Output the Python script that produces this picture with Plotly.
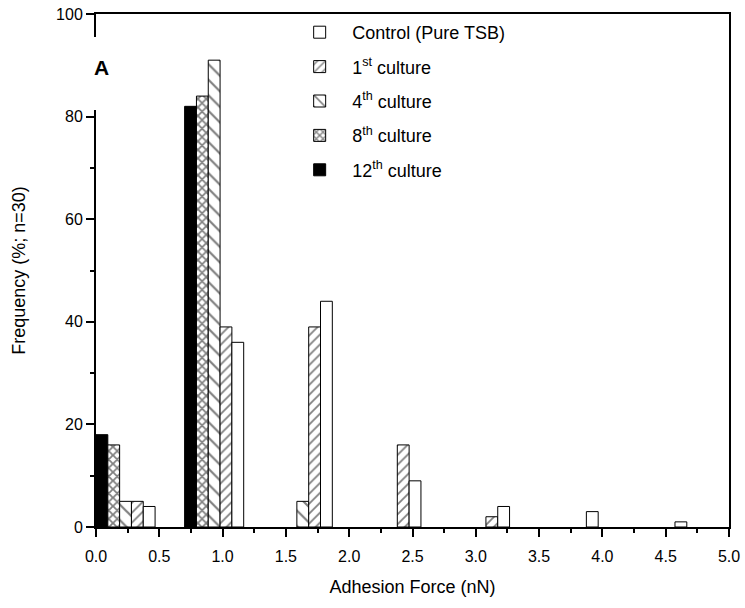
import plotly.graph_objects as go

# Bin lower edges (nN) and bin width
bin_edges = [0.0, 0.7, 1.4, 2.1, 2.8, 3.5, 4.2]
bin_width = 0.7

series_names = ["12<sup>th</sup> culture", "8<sup>th</sup> culture",
                "4<sup>th</sup> culture", "1<sup>st</sup> culture",
                "Control (Pure TSB)"]
freq_12th = [18, 82, 0, 0, 0, 0, 0]
freq_8th = [16, 84, 0, 0, 0, 0, 0]
freq_4th = [5, 91, 5, 0, 0, 0, 0]
freq_1st = [5, 39, 39, 16, 2, 0, 0]
freq_control = [4, 36, 44, 9, 4, 3, 1]

x_ticks = [0.0, 0.5, 1.0, 1.5, 2.0, 2.5, 3.0, 3.5, 4.0, 4.5, 5.0]
y_ticks = [0, 20, 40, 60, 80, 100]

series_values = [freq_12th, freq_8th, freq_4th, freq_1st, freq_control]
legend_ranks = [5, 4, 3, 2, 1]
styles = [
    dict(color="black", pattern=None),
    dict(color="white", pattern=dict(shape="x", fgcolor="black", bgcolor="white", size=6, solidity=0.5)),
    dict(color="white", pattern=dict(shape="\\", fgcolor="black", bgcolor="white", size=11, solidity=0.2)),
    dict(color="white", pattern=dict(shape="/", fgcolor="black", bgcolor="white", size=7, solidity=0.25)),
    dict(color="white", pattern=None),
]

# group centre: groups occupy 2/3 of each bin, starting at bin edge
centers = [e + bin_width / 3 for e in bin_edges]

fig = go.Figure()
for i, (name, vals, st) in enumerate(zip(series_names, series_values, styles)):
    marker = dict(color=st["color"], line=dict(color="black", width=1))
    if st["pattern"] is not None:
        marker["pattern"] = st["pattern"]
    # empty bins (0 %) are left undrawn as in the reference
    yv = [v if v != 0 else None for v in vals]
    fig.add_trace(go.Bar(x=centers, y=yv, name=name, marker=marker,
                         legendgroup=str(i), legendrank=legend_ranks[i]))

FONT = "Arial, Liberation Sans, sans-serif"
fig.update_layout(
    width=745, height=608,
    margin=dict(l=96, r=16, t=14, b=81),
    paper_bgcolor="white", plot_bgcolor="white",
    barmode="group", bargap=1/3, bargroupgap=0,
    font=dict(family=FONT, color="black", size=16),
    showlegend=True,
    legend=dict(x=0.302, y=1.0, xanchor="left", yanchor="top",
                traceorder="grouped", tracegroupgap=8,
                itemwidth=55, font=dict(size=18, family=FONT),
                bgcolor="rgba(0,0,0,0)"),
    xaxis=dict(range=[0, 5], tickvals=x_ticks, tickformat=".1f", automargin=False,
               ticks="outside", ticklen=8, tickwidth=1.5, tickcolor="black",
               ticklabelstandoff=6,
               showline=True, linecolor="black", linewidth=2, mirror=True,
               showgrid=False, zeroline=False,
               minor=dict(dtick=0.25, ticks="outside", ticklen=4, tickwidth=1.5, tickcolor="black"),
               title=dict(text="Adhesion Force (nN)", font=dict(size=18), standoff=16),
               tickfont=dict(size=16)),
    yaxis=dict(range=[0, 100], tickvals=y_ticks, automargin=False,
               ticks="outside", ticklen=8, tickwidth=1.5, tickcolor="black",
               showline=True, linecolor="black", linewidth=2, mirror=True,
               showgrid=False, zeroline=False,
               minor=dict(dtick=10, ticks="outside", ticklen=4, tickwidth=1.5, tickcolor="black"),
               title=dict(text="Frequency (%; n=30)", font=dict(size=18), standoff=26),
               tickfont=dict(size=16)),
)

# white box interrupting left axis behind the panel label
fig.add_shape(type="rect", xref="paper", yref="paper",
              x0=-0.012, x1=0.03, y0=0.813, y1=0.955,
              fillcolor="white", line=dict(width=0), layer="above")
fig.add_annotation(text="<b>A</b>", xref="paper", yref="paper",
                   x=0.008, y=0.896, xanchor="center", yanchor="middle",
                   showarrow=False,
                   font=dict(size=21, family=FONT, color="black"))

fig.write_html("out.html")
